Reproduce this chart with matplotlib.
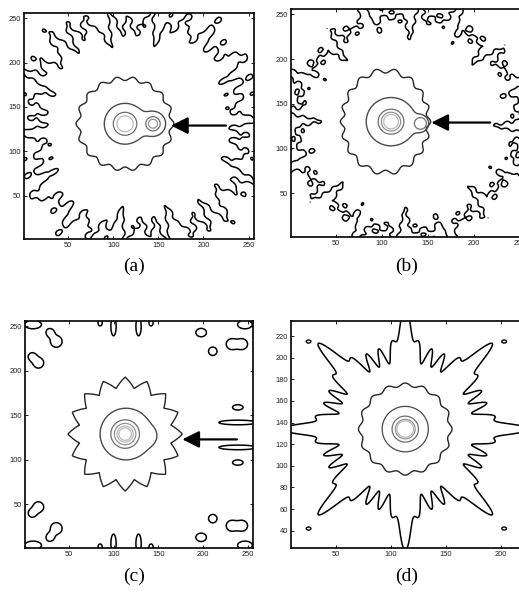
import numpy as np
import matplotlib
matplotlib.use("Agg")
import matplotlib.pyplot as plt

# contour colours from the outer (low) level to the inner (high) level
LEVEL_COLORS = ["#000000", "#262626", "#4a4a4a", "#6e6e6e", "#939393", "#b9b9b9"]
TICK_FONT = ["Liberation Sans", "DejaVu Sans"]
LABEL_FONT = ["Liberation Serif", "DejaVu Serif"]

# ---- panel (a) ----
A_CENTER = (113, 131)
A_STAR = (52, 51, 2.2, 18)           # rx, ry, wave amplitude, lobes
A_INNER = [(113, 131, 23), (144, 131, 14)]   # soft union of two discs
A_RINGS = [(113, 131, 13, 3), (113, 131, 9, 5), (144, 131, 8, 3), (144, 131, 5, 4)]
A_BAND = (128, 128, 113, 3.0)        # cx, cy, radius, p-norm
A_BAND_WAVES = [(36, 11.0, 0.3), (22, 8.0, 1.9), (50, 6.0, 0.7), (12, 4.0, 2.5)]   # lobes, depth, phase
A_BAND_ISLANDS = (15.0, 9.0, 44)     # radial period, depth, lobes
A_ARROW = ((225, 129), (164, 129))

# ---- panel (b) ----
B_STAR = (104, 130, 47, 57, 2.4, 18)
B_INNER = [(110, 130, 27), (141, 128, 10)]
B_RINGS = [(110, 130, 14, 3), (110, 130, 10.5, 4), (110, 130, 8, 5), (142, 128, 6.5, 3)]
B_BAND = (128, 128, 121, 2.0)
B_BAND_WAVES = [(40, 9.0, 0.9), (24, 8.0, 0.2), (56, 4.0, 2.2), (8, 7.0, 0.0)]
B_BAND_ISLANDS = (12.0, 10.0, 44)
B_ARROW = ((218, 129), (154, 129))

# ---- panel (c) ----
C_STAR = (113, 129, 58, 58, 6.0, 16)
C_INNER = [(114, 129, 29), (136, 127, 12)]
C_RINGS = [(113, 129, 16, 3), (113, 129, 12, 4), (113, 129, 9, 5), (113, 129, 7, 5)]
# islands in the upper half: x, y, sx, sy (mirrored about y = 128)
C_ISL_X = [10, 29, 36, 9, 16, 85, 100, 128, 142, 198, 211, 232, 244, 247, 239, 239]
C_ISL_Y = [252, 243, 233, 216, 209, 254, 250, 250, 254, 243, 222, 230, 230, 252, 159, 142]
C_ISL_SX = [8, 3.6, 5.5, 3.6, 5, 2, 2.5, 2.5, 2, 5, 4, 5, 5, 7, 5, 18]
C_ISL_SY = [4, 3.6, 5.5, 3.6, 5, 3, 9, 9, 3, 4, 4, 5, 5, 4, 2.5, 2.2]
C_ARROW = ((238, 123), (177, 123))

# ---- panel (d) ----
D_CENTER = (113, 134)
D_OUTER = (70, 34, 8, 8.0, 40)        # base radius, arm length, arms, wiggle depth, wiggles
D_STAR = (41, 41, 1.6, 16)
D_RINGS = [(21, 2), (12, 3), (9, 4), (7.6, 5)]
D_DOTS_X = [25, 203, 25, 203]
D_DOTS_Y = [215, 215, 42, 42]


def grid(xlim, ylim):
    return np.meshgrid(np.linspace(*xlim, 520), np.linspace(*ylim, 520))


def wavy_ring(ax, X, Y, cx, cy, rx, ry, amp, lobes, color, lw, sharp=False):
    dx, dy = X - cx, Y - cy
    th = np.arctan2(dy, dx)
    wave = np.cos(lobes * th)
    if sharp:
        wave = 2 / np.pi * np.arcsin(wave)
    F = np.hypot(dx / rx, dy / ry) - 1 - amp / (0.5 * (rx + ry)) * wave
    ax.contour(X, Y, F, levels=[0], colors=[color], linewidths=lw)


def soft_union(ax, X, Y, discs, color, lw, s=4.0):
    acc = 0
    for cx, cy, r in discs:
        acc = acc + np.exp(-(np.hypot(X - cx, Y - cy) - r) / s)
    F = -s * np.log(acc)
    ax.contour(X, Y, F, levels=[0], colors=[color], linewidths=lw)


def rings(ax, X, Y, spec, lw=0.9):
    for cx, cy, r, level in spec:
        F = np.hypot(X - cx, Y - cy) - r
        ax.contour(X, Y, F, levels=[0], colors=[LEVEL_COLORS[level]], linewidths=lw)


def band(ax, X, Y, spec, waves, isl, lw=1.1):
    cx, cy, r0, p = spec
    dx, dy = X - cx, Y - cy
    rho = (np.abs(dx) ** p + np.abs(dy) ** p) ** (1 / p)
    th = np.arctan2(dy, dx)
    F = rho - r0
    for n, depth, ph in waves:
        F = F + depth * np.cos(n * th + ph)
    period, depth, n = isl
    ramp = np.clip((rho - 70) / 40, 0, 1)
    F = F + depth * ramp * np.cos(2 * np.pi * rho / period) * np.cos(n * th)
    ax.contour(X, Y, F, levels=[0], colors=["black"], linewidths=lw)


def islands(ax, X, Y, xs, ys, sxs, sys_, mirror_y, lw=1.1):
    F = np.zeros_like(X)
    for x, y, sx, sy in zip(xs, ys, sxs, sys_):
        for yy in (y, 2 * mirror_y - y):
            F += np.exp(-0.5 * (((X - x) / sx) ** 2 + ((Y - yy) / sy) ** 2))
    ax.contour(X, Y, F, levels=[0.5], colors=["black"], linewidths=lw)


def arrow(ax, tail, tip):
    ax.annotate("", xy=tip, xytext=tail,
                arrowprops=dict(arrowstyle="-|>,head_length=0.6,head_width=0.3",
                                mutation_scale=17, lw=1.6, color="black",
                                shrinkA=0, shrinkB=0))


def style(ax, xlim, ylim, xticks, yticks):
    ax.set_xlim(*xlim)
    ax.set_ylim(*ylim)
    ax.set_xticks(xticks)
    ax.set_yticks(yticks)
    ax.tick_params(direction="in", length=2, width=0.6, top=True, right=True,
                   labelsize=5.4, labelcolor="#222222", pad=2)
    for lab in ax.get_xticklabels() + ax.get_yticklabels():
        lab.set_family(TICK_FONT)
    for sp in ax.spines.values():
        sp.set_linewidth(1.2)


fig = plt.figure(figsize=(5.19, 5.95), dpi=100)
W, H = 519, 595


def add_axes(left, top, w, h):
    return fig.add_axes([left / W, 1 - (top + h) / H, w / W, h / H])


ticks_256 = [50, 100, 150, 200, 250]
lim_256 = (1, 256)

# (a)
ax = add_axes(24, 13, 230, 226)
X, Y = grid(lim_256, lim_256)
band(ax, X, Y, A_BAND, A_BAND_WAVES, A_BAND_ISLANDS)
wavy_ring(ax, X, Y, *A_CENTER, A_STAR[0], A_STAR[1], A_STAR[2], A_STAR[3], LEVEL_COLORS[1], 1.0)
soft_union(ax, X, Y, A_INNER, LEVEL_COLORS[2], 1.0)
rings(ax, X, Y, A_RINGS)
arrow(ax, *A_ARROW)
style(ax, lim_256, lim_256, ticks_256, ticks_256)

# (b)
ax = add_axes(291, 9, 234, 228)
band(ax, X, Y, B_BAND, B_BAND_WAVES, B_BAND_ISLANDS)
wavy_ring(ax, X, Y, *B_STAR, LEVEL_COLORS[1], 1.0)
soft_union(ax, X, Y, B_INNER, LEVEL_COLORS[2], 1.0, s=3.0)
rings(ax, X, Y, B_RINGS)
arrow(ax, *B_ARROW)
style(ax, lim_256, lim_256, ticks_256, ticks_256)

# (c)
ax = add_axes(25, 321, 228, 227)
islands(ax, X, Y, C_ISL_X, C_ISL_Y, C_ISL_SX, C_ISL_SY, 128)
wavy_ring(ax, X, Y, *C_STAR, LEVEL_COLORS[1], 1.0, sharp=True)
soft_union(ax, X, Y, C_INNER, LEVEL_COLORS[2], 1.0, s=3.0)
rings(ax, X, Y, C_RINGS)
arrow(ax, *C_ARROW)
style(ax, lim_256, lim_256, ticks_256, ticks_256)

# (d)
ax = add_axes(291, 321, 234, 227)
xlim_d, ylim_d = (9, 222), (24, 234)
Xd, Yd = grid(xlim_d, ylim_d)
dx, dy = Xd - D_CENTER[0], Yd - D_CENTER[1]
th = np.arctan2(dy, dx)
base, arm, n_arms, wig, n_wig = D_OUTER
R = base + arm * np.clip(np.cos(n_arms * th), 0, None) ** 2 + wig * np.cos(n_wig * th)
ax.contour(Xd, Yd, np.hypot(dx, dy) - R, levels=[0], colors=["black"], linewidths=1.1)
Fd = np.zeros_like(Xd)
for x, y in zip(D_DOTS_X, D_DOTS_Y):
    Fd += np.exp(-0.5 * (((Xd - x) / 1.8) ** 2 + ((Yd - y) / 1.2) ** 2))
ax.contour(Xd, Yd, Fd, levels=[0.5], colors=["black"], linewidths=1.0)
wavy_ring(ax, Xd, Yd, *D_CENTER, *D_STAR, LEVEL_COLORS[1], 1.0)
rings(ax, Xd, Yd, [(D_CENTER[0], D_CENTER[1], r, lv) for r, lv in D_RINGS])
style(ax, xlim_d, ylim_d, [50, 100, 150, 200], list(range(40, 221, 20)))

for x, y, s in [(134, 266, "(a)"), (407, 266, "(b)"), (134, 576, "(c)"), (407, 576, "(d)")]:
    fig.text(x / W, 1 - y / H, s, ha="center", va="center", fontsize=14, family=LABEL_FONT)

fig.savefig("out.png", dpi=100)
